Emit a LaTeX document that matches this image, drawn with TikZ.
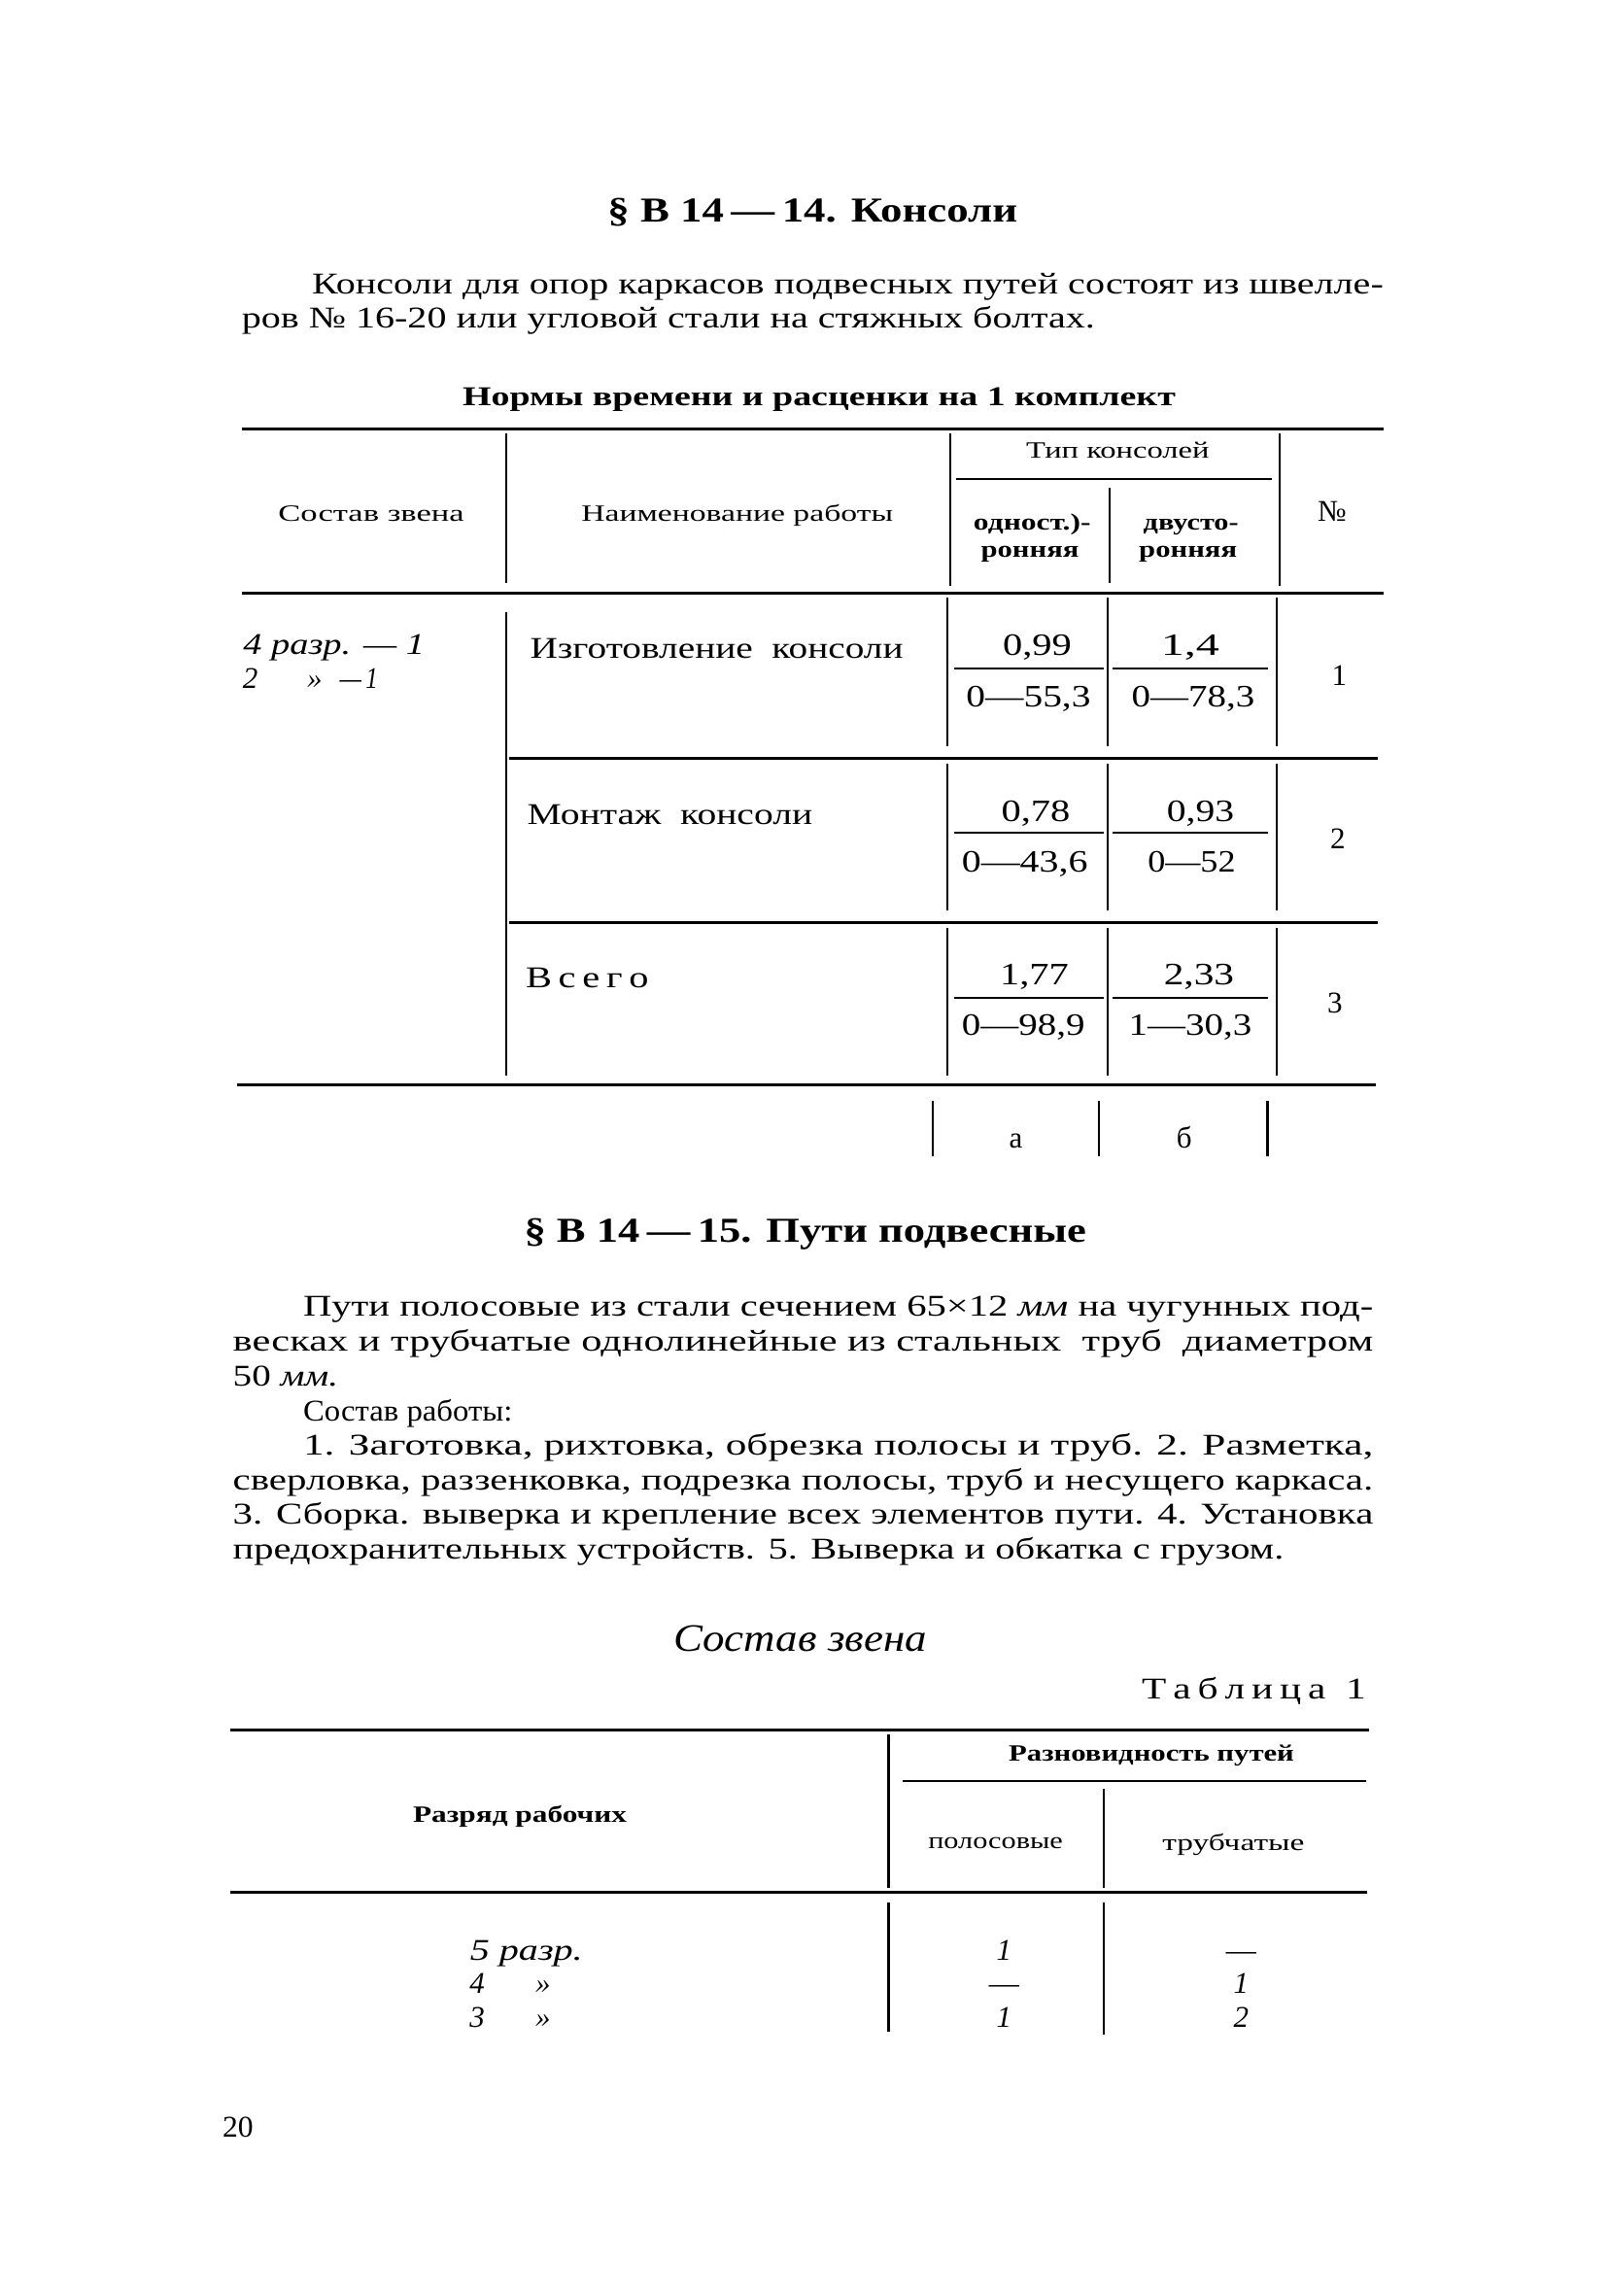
\documentclass[tikz,border=0pt]{standalone}
\usepackage{fontspec}
\setmainfont{Liberation Serif}
\usepackage{graphicx}
% fitted text: name, x1, x2, baseline y, style, text
\newcommand\ft[6]{\pgfmathsetlengthmacro\fitw{(#3-#2)*1.5064}%
  \node[anchor=base west,inner sep=0pt,#5] (#1) at (#2,#4) {\resizebox{\fitw}{\height}{#6}};}
% centred text: name, x, baseline y, style, text
\newcommand\ct[5]{\node[anchor=base,inner sep=0pt,#4] (#1) at (#2,#3) {#5};}
\begin{document}
\begin{tikzpicture}[x=1.5064pt,y=-1.5064pt,
  hrule/.style={line width=3pt},
  vrule/.style={line width=2.2pt},
  frule/.style={line width=2pt},
  body/.style={font=\fontsize{31}{35}\selectfont},
  ital/.style={font=\fontsize{31}{35}\selectfont\itshape},
  ttl/.style={font=\fontsize{36}{40}\selectfont\bfseries},
  capt/.style={font=\fontsize{28}{30}\selectfont\bfseries},
  hdr/.style={font=\fontsize{24}{26}\selectfont},
  hdrb/.style={font=\fontsize{24}{26}\selectfont\bfseries},
  num/.style={font=\fontsize{32}{35}\selectfont},
  bigit/.style={font=\fontsize{40}{42}\selectfont\itshape}]
\fill[white] (0,0) rectangle (1100,1568.6);
\useasboundingbox (0,0) rectangle (1100,1568.6);

% ---------- section 1 ----------
\ft{t1}{415}{695}{152}{ttl}{§ В 14\,—\,14. Консоли}
\ft{p1}{213}{945}{201}{body}{Консоли для опор каркасов подвесных путей состоят из швелле-}
\ft{p2}{165}{748}{224}{body}{ров № 16-20 или угловой стали на стяжных болтах.}
\ft{cap}{316}{803}{277}{capt}{Нормы времени и расценки на 1 комплект}

% table 1 rules
\draw[hrule] (165,293) -- (945,293);
\draw[vrule] (346,296) -- (346,398);
\draw[vrule] (649,296) -- (649,400);
\draw[vrule] (874,296) -- (874,400);
\draw[frule] (653,327) -- (869,327);
\draw[vrule] (758,333) -- (758,398);
\draw[hrule] (165,405) -- (945,405);
\draw[vrule] (346,418) -- (346,735);
\foreach \ya/\yb in {408/510,522/622,634/735}{
  \draw[vrule] (647,\ya) -- (647,\yb);
  \draw[vrule] (757,\ya) -- (757,\yb);
  \draw[vrule] (872,\ya) -- (872,\yb);}
\draw[hrule] (348,518) -- (941,518);
\draw[hrule] (348,630) -- (941,630);
\draw[hrule] (162,741) -- (940,741);
\foreach \xx in {637,751,866}{\draw[vrule] (\xx,752) -- (\xx,790);}
\foreach \yy in {457,569,682}{
  \draw[frule] (652,\yy) -- (754,\yy);
  \draw[frule] (760,\yy) -- (866,\yy);}

% table 1 header
\ft{hs}{190}{317}{356}{hdr}{Состав звена}
\ft{hn}{397}{610}{356}{hdr}{Наименование работы}
\ft{ht}{701}{826}{313}{hdr}{Тип консолей}
\ft{ho1}{665}{745}{362}{hdrb}{одност.)-}
\ft{ho2}{670}{737}{381}{hdrb}{ронняя}
\ft{hd1}{781}{846}{362}{hdrb}{двусто-}
\ft{hd2}{778}{845}{381}{hdrb}{ронняя}
\ct{hno}{910}{356}{body}{№}

% table 1 body
\ft{s1}{166}{290}{447}{ital}{4 разр. — 1}
\ct{s2a}{171}{470}{ital}{2}
\ct{s2b}{215}{470}{ital}{»}
\ft{s2c}{232}{258}{470}{ital}{—\,1}
\ft{r1}{362}{617}{450}{body}{Изготовление\ \ консоли}
\ft{r2}{360}{555}{563}{body}{Монтаж\ \ консоли}
\ft{r3}{359}{443}{675}{body}{В\,с\,е\,г\,о}
\ft{a1}{685}{732}{448}{num}{0,99}
\ft{b1}{793}{833}{448}{num}{1,4}
\ft{a1d}{660}{745}{483}{num}{0—55,3}
\ft{b1d}{773}{857}{483}{num}{0—78,3}
\ft{a2}{684}{731}{561}{num}{0,78}
\ft{b2}{797}{843}{561}{num}{0,93}
\ft{a2d}{657}{743}{596}{num}{0—43,6}
\ft{b2d}{784}{844}{596}{num}{0—52}
\ft{a3}{683}{730}{673}{num}{1,77}
\ft{b3}{795}{843}{673}{num}{2,33}
\ft{a3d}{657}{741}{707}{num}{0—98,9}
\ft{b3d}{771}{855}{707}{num}{1—30,3}
\ct{n1}{915}{468}{body}{1}
\ct{n2}{914}{580}{body}{2}
\ct{n3}{912}{692}{body}{3}
\ct{fa}{694}{784}{body}{а}
\ct{fb}{809}{784}{body}{б}

% ---------- section 2 ----------
\ft{t2}{358}{742}{849}{ttl}{§ В 14\,—\,15. Пути подвесные}
\ft{q1}{207}{938}{899}{body}{Пути полосовые из стали сечением 65×12 \textit{мм} на чугунных под-}
\ft{q2}{159}{938}{923}{body}{весках и трубчатые однолинейные из стальных\ \ труб\ \ диаметром}
\ft{q3}{159}{231}{947}{body}{50 \textit{мм.}}
\ft{q4}{207}{350}{971}{body}{Состав работы:}
\ft{q5}{207}{938}{994}{body}{1. Заготовка, рихтовка, обрезка полосы и труб. 2. Разметка,}
\ft{q6}{159}{938}{1018}{body}{сверловка, раззенковка, подрезка полосы, труб и несущего каркаса.}
\ft{q7}{159}{938}{1041}{body}{3. Сборка. выверка и крепление всех элементов пути. 4. Установка}
\ft{q8}{159}{877}{1065}{body}{предохранительных устройств. 5. Выверка и обкатка с грузом.}

\ft{sz}{460}{633}{1128}{bigit}{Состав звена}
\ft{tab}{780}{933}{1161}{body}{Т\,а\,б\,л\,и\,ц\,а\ \ 1}

% table 2 rules
\draw[hrule] (157,1182) -- (935,1182);
\draw[vrule] (607,1185) -- (607,1290);
\draw[vrule] (607,1300) -- (607,1388);
\draw[frule] (617,1217) -- (933,1217);
\draw[vrule] (754,1222) -- (754,1290);
\draw[vrule] (754,1300) -- (754,1390);
\draw[hrule] (157,1293) -- (934,1293);

% table 2 text
\ft{g1}{689}{884}{1203}{hdrb}{Разновидность путей}
\ft{g2}{282}{428}{1245}{hdrb}{Разряд рабочих}
\ft{g3}{634}{726}{1263}{hdr}{полосовые}
\ft{g4}{794}{891}{1264}{hdr}{трубчатые}
\ft{k1}{321}{398}{1339}{ital}{5 разр.}
\ct{k2a}{326}{1362}{ital}{4}
\ct{k2b}{371}{1362}{ital}{»}
\ct{k3a}{326}{1385}{ital}{3}
\ct{k3b}{371}{1385}{ital}{»}
\ct{c11}{686}{1339}{ital}{1}
\ct{c12}{686}{1362}{body}{—}
\ct{c13}{686}{1385}{ital}{1}
\ct{c21}{848}{1339}{body}{—}
\ct{c22}{848}{1362}{ital}{1}
\ct{c23}{848}{1385}{ital}{2}
\ft{pg}{152}{173}{1460}{body}{20}
\end{tikzpicture}
\end{document}
